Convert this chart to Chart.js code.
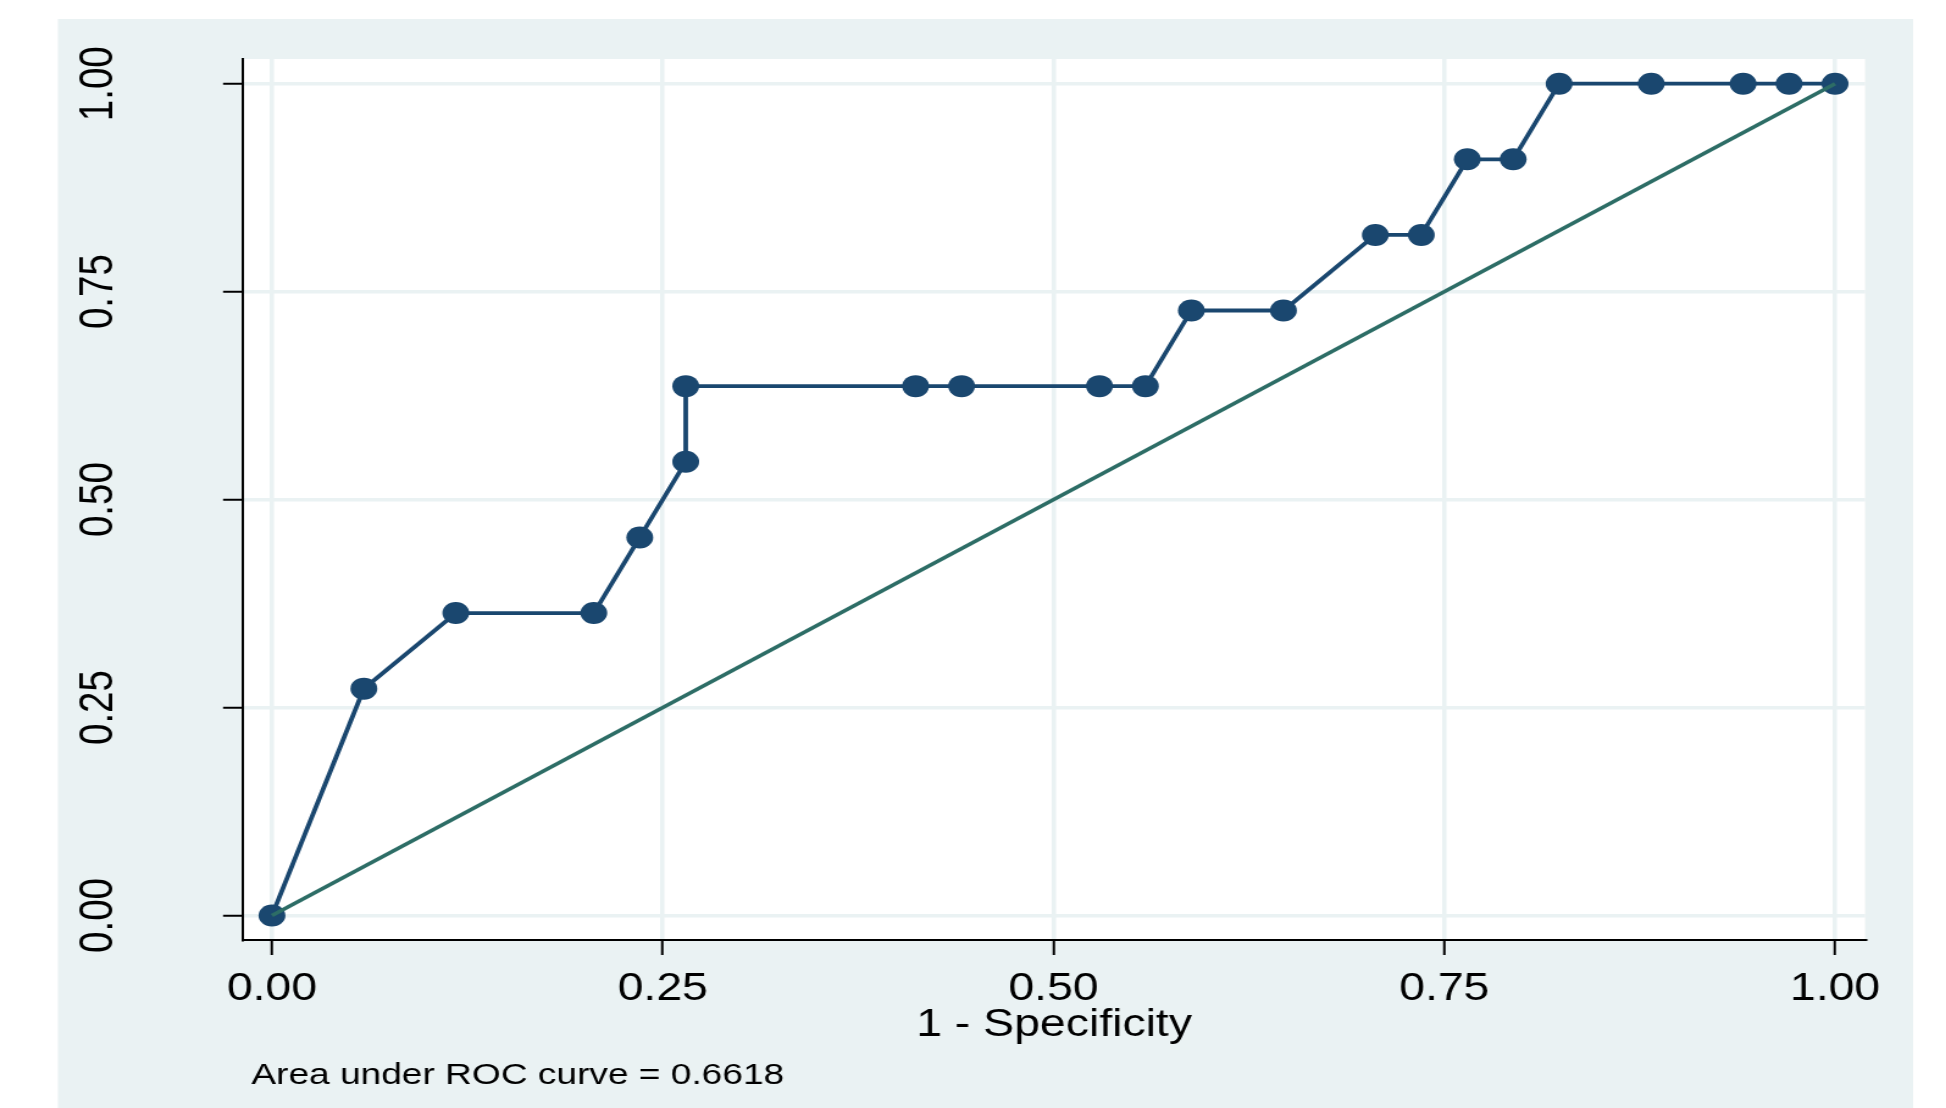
<!DOCTYPE html>
<html>
<head>
<meta charset="utf-8">
<title>ROC curve</title>
<script src="https://cdn.jsdelivr.net/npm/chart.js@4.4.1/dist/chart.umd.min.js"></script>
<style>
  html, body { margin: 0; padding: 0; background: #ffffff; overflow: hidden; }
  #frame {
    width: 1595px;
    height: 1108px;
    transform: scaleX(1.2201);
    transform-origin: 0 0;
  }
  canvas { display: block; }
</style>
</head>
<body>
<div id="frame"><canvas id="roc" width="1595" height="1108"></canvas></div>
<script>
// ROC curve points: 1 - specificity (x) against sensitivity (y)
const fprValues = [0, 0.0588, 0.1176, 0.2059, 0.2353, 0.2647, 0.2647, 0.4118, 0.4412, 0.5294, 0.5588,
                   0.5882, 0.6471, 0.7059, 0.7353, 0.7647, 0.7941, 0.8235, 0.8824, 0.9412, 0.9706, 1];
const tprValues = [0, 0.2727, 0.3636, 0.3636, 0.4545, 0.5455, 0.6364, 0.6364, 0.6364, 0.6364, 0.6364,
                   0.7273, 0.7273, 0.8182, 0.8182, 0.9091, 0.9091, 1, 1, 1, 1, 1];

// Chance (reference) line
const refX = [0, 1];
const refY = [0, 1];

// Axis ticks
const xTickValues = [0, 0.25, 0.5, 0.75, 1];
const xTickLabels = ['0.00', '0.25', '0.50', '0.75', '1.00'];
const yTickValues = [0, 0.25, 0.5, 0.75, 1];
const yTickLabels = ['0.00', '0.25', '0.50', '0.75', '1.00'];

const xTitle = '1 - Specificity';
const aucValue = 0.6618;

const NAVY = '#1A476F';
const EMERALD = '#2D6D66';
const BG = '#EAF2F3';
const FONT = '"Liberation Sans", Arial, Helvetica, sans-serif';

const toPoints = (xs, ys) => xs.map((x, i) => ({ x: x, y: ys[i] }));

// Light graph region behind a white plot region
const backdrop = {
  id: 'backdrop',
  beforeDraw(chart) {
    const { ctx, chartArea: a } = chart;
    ctx.save();
    ctx.fillStyle = '#ffffff';
    ctx.fillRect(0, 0, chart.width, chart.height);
    ctx.fillStyle = BG;
    ctx.fillRect(47.5, 19, 1568 - 47.5, chart.height - 19);
    ctx.fillStyle = '#ffffff';
    ctx.fillRect(a.left, a.top, a.right - a.left, a.bottom - a.top);
    ctx.restore();
  }
};

// Note under the plot with the area under the curve
const aucNote = {
  id: 'aucNote',
  afterDraw(chart) {
    const ctx = chart.ctx;
    ctx.save();
    ctx.font = '30.4px ' + FONT;
    ctx.fillStyle = '#000000';
    ctx.textAlign = 'left';
    ctx.textBaseline = 'middle';
    ctx.fillText('Area under ROC curve = ' + aucValue.toFixed(4), 206, 1076);
    ctx.restore();
  }
};

new Chart(document.getElementById('roc'), {
  type: 'scatter',
  data: {
    datasets: [
      {
        label: 'Reference',
        data: toPoints(refX, refY),
        showLine: true,
        borderColor: EMERALD,
        borderWidth: 3.6,
        pointRadius: 0,
        pointHoverRadius: 0,
        order: 0
      },
      {
        label: 'ROC',
        data: toPoints(fprValues, tprValues),
        showLine: true,
        tension: 0,
        borderColor: NAVY,
        borderWidth: 3.8,
        pointStyle: 'circle',
        pointRadius: 11,
        pointBorderWidth: 0,
        pointBackgroundColor: NAVY,
        pointBorderColor: NAVY,
        order: 1
      }
    ]
  },
  options: {
    responsive: false,
    animation: false,
    devicePixelRatio: 1,
    layout: { padding: { top: 59, right: 66.4, bottom: 0, left: 0 } },
    plugins: {
      legend: { display: false },
      tooltip: { enabled: false }
    },
    scales: {
      x: {
        type: 'linear',
        min: -0.0185,
        max: 1.0192,
        afterFit(scale) {
          scale.height = 168;
          scale.paddingLeft = 0;
          scale.paddingRight = 0;
        },
        afterBuildTicks(scale) { scale.ticks = xTickValues.map(v => ({ value: v })); },
        grid: {
          color: BG,
          lineWidth: 3.5,
          drawTicks: true,
          tickLength: 15,
          tickColor: '#000000',
          tickWidth: 2
        },
        border: { display: true, color: '#000000', width: 2 },
        ticks: {
          color: '#000000',
          font: { family: FONT, size: 38 },
          padding: 12,
          maxRotation: 0,
          minRotation: 0,
          callback(value) {
            const i = xTickValues.indexOf(value);
            return i >= 0 ? xTickLabels[i] : '';
          }
        },
        title: {
          display: true,
          text: xTitle,
          color: '#000000',
          font: { family: FONT, size: 38 },
          padding: { top: 0, bottom: 60 }
        }
      },
      y: {
        type: 'linear',
        min: -0.0295,
        max: 1.0297,
        afterFit(scale) {
          scale.width = 199.2;
          scale.paddingTop = 0;
          scale.paddingBottom = 0;
        },
        afterBuildTicks(scale) { scale.ticks = yTickValues.map(v => ({ value: v })); },
        grid: {
          color: BG,
          lineWidth: 3.5,
          drawTicks: true,
          tickLength: 16.4,
          tickColor: '#000000',
          tickWidth: 2
        },
        border: { display: true, color: '#000000', width: 2 },
        ticks: {
          color: '#000000',
          font: { family: FONT, size: 38.5 },
          padding: 64,
          minRotation: 90,
          maxRotation: 90,
          crossAlign: 'center',
          callback(value) {
            const i = yTickValues.indexOf(value);
            return i >= 0 ? yTickLabels[i] : '';
          }
        }
      }
    }
  },
  plugins: [backdrop, aucNote]
});
</script>
</body>
</html>
